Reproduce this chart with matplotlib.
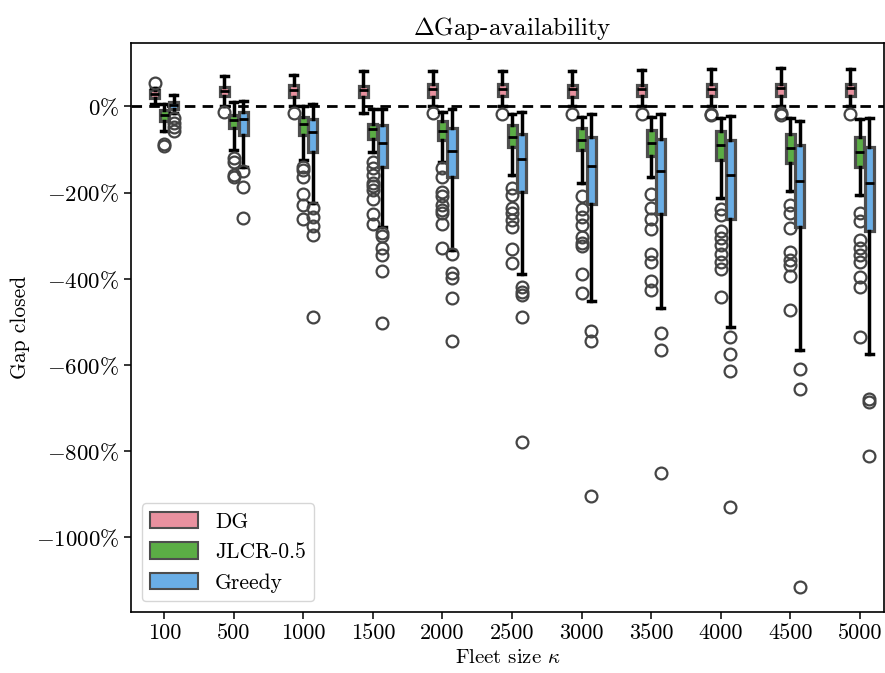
import numpy as np
import matplotlib
matplotlib.use('Agg')
import matplotlib.pyplot as plt
from matplotlib.patches import Patch

plt.rcParams['font.family'] = 'serif'
plt.rcParams['font.serif'] = ['cmr10']
plt.rcParams['mathtext.fontset'] = 'cm'
plt.rcParams['axes.formatter.use_mathtext'] = True

# fleet sizes on the x axis
fleet = [100, 500, 1000, 1500, 2000, 2500, 3000, 3500, 4000, 4500, 5000]
methods = ['DG', 'JLCR-0.5', 'Greedy']

# box statistics (gap closed, %)
dg_q1 = [19, 24, 22, 21, 22, 23, 21, 23, 23, 24, 24]
dg_med = [28, 36, 38, 38, 40, 40, 40, 41, 41, 42, 43]
dg_q3 = [38, 46, 50, 47, 51, 52, 50, 50, 52, 53, 53]
dg_lo = [5, 0, 0, -16, 0, 0, 0, 0, 0, 0, 0]
dg_hi = [42, 71, 73, 81, 82, 83, 81, 85, 86, 89, 86]
dg_fl = [[55], [-12], [-16], [], [-16], [-17], [-17], [-17], [-20, -18], [-16, -19], [-17]]

jl_q1 = [-35, -51, -66, -75, -78, -95, -101, -116, -124, -132, -140]
jl_med = [-20, -31, -41, -53, -58, -70, -78, -84, -89, -97, -105]
jl_q3 = [-8, -20, -25, -41, -35, -43, -51, -55, -58, -64, -70]
jl_lo = [-58, -101, -124, -106, -130, -159, -177, -164, -212, -196, -205]
jl_hi = [6, 10, 0, -6, -14, -17, -24, -25, -27, -27, -30]
jl_fl = [[-87, -93],
         [-120, -128, -159, -164],
         [-141, -147, -163, -203, -229, -262],
         [-130, -143, -159, -177, -184, -194, -215, -250, -273],
         [-143, -163, -198, -209, -229, -240, -248, -273, -328],
         [-190, -205, -236, -248, -263, -280, -331, -364],
         [-208, -239, -256, -275, -302, -316, -325, -389, -432],
         [-203, -236, -262, -285, -342, -362, -406, -427],
         [-239, -252, -290, -306, -321, -342, -360, -378, -443],
         [-229, -248, -283, -337, -356, -368, -393, -472],
         [-248, -267, -310, -329, -345, -360, -395, -418, -535]]

gr_q1 = [-6, -66, -107, -140, -164, -198, -226, -249, -262, -280, -290]
gr_med = [3, -30, -60, -84, -103, -123, -138, -151, -159, -174, -178]
gr_q3 = [10, -12, -30, -43, -51, -64, -72, -76, -79, -89, -95]
gr_lo = [-15, -140, -225, -279, -333, -389, -451, -468, -511, -565, -575]
gr_hi = [26, 13, 5, -6, -6, -12, -17, -17, -22, -35, -27]
gr_fl = [[-28, -38, -47, -58],
         [-151, -188, -259],
         [-235, -256, -277, -298, -488],
         [-294, -300, -329, -345, -383, -503],
         [-342, -387, -399, -445, -545],
         [-418, -430, -437, -488, -778],
         [-522, -545, -905],
         [-525, -565, -850],
         [-535, -575, -615, -930],
         [-610, -655, -1115],
         [-680, -685, -810]]

colors = ['#E8919F', '#5BAD45', '#6AAEE6']
yticks = [0, -200, -400, -600, -800, -1000]


def make_stats(q1, med, q3, lo, hi, fl):
    return [dict(q1=a, med=b, q3=c, whislo=d, whishi=e, fliers=f)
            for a, b, c, d, e, f in zip(q1, med, q3, lo, hi, fl)]


groups = [make_stats(dg_q1, dg_med, dg_q3, dg_lo, dg_hi, dg_fl),
          make_stats(jl_q1, jl_med, jl_q3, jl_lo, jl_hi, jl_fl),
          make_stats(gr_q1, gr_med, gr_q3, gr_lo, gr_hi, gr_fl)]

fig = plt.figure(figsize=(8.85, 6.73), dpi=100)
ax = fig.add_axes([131/885, 1 - 612/673, 753/885, 569/673])

x = np.arange(len(fleet))
offsets = [-0.137, 0.0, 0.137]
edge = '#4d4d4d'

ax.axhline(0, color='k', lw=2.0, ls=(0, (3.8, 2.6)), zorder=1.5)

for stats, off, col in zip(groups, offsets, colors):
    ax.bxp(stats, positions=x + off, widths=0.13, capwidths=0.1,
           patch_artist=True, manage_ticks=False,
           boxprops=dict(facecolor=col, edgecolor=edge, linewidth=2.3),
           whiskerprops=dict(color='k', linewidth=2.5),
           capprops=dict(color='k', linewidth=2.5),
           medianprops=dict(color='k', linewidth=2.0),
           flierprops=dict(marker='o', markerfacecolor='none',
                           markeredgecolor='#444444', markersize=8.5,
                           markeredgewidth=1.6),
           zorder=3)

ax.set_xlim(-0.48, 10.35)
ax.set_ylim(-1173, 147)
ax.set_xticks(x)
ax.set_xticklabels([str(f) for f in fleet], fontsize=16)
ax.set_yticks(yticks)
ax.set_yticklabels([r'$%d\%%$' % v for v in yticks], fontsize=16.5)
ax.tick_params(length=5, width=1.1)
for s in ax.spines.values():
    s.set_linewidth(1.2)

ax.set_xlabel(r'Fleet size $\kappa$', fontsize=15)
ax.set_ylabel('Gap closed', fontsize=15.5)
ax.set_title(r'$\Delta$Gap-availability', fontsize=18, x=0.507)

handles = [Patch(facecolor=c, edgecolor=edge, linewidth=1.5, label=m)
           for c, m in zip(colors, methods)]
ax.legend(handles=handles, loc='lower left', fontsize=15.5,
          handlelength=2.2, handleheight=0.8, framealpha=0.8)

fig.savefig('out.png', dpi=100)
